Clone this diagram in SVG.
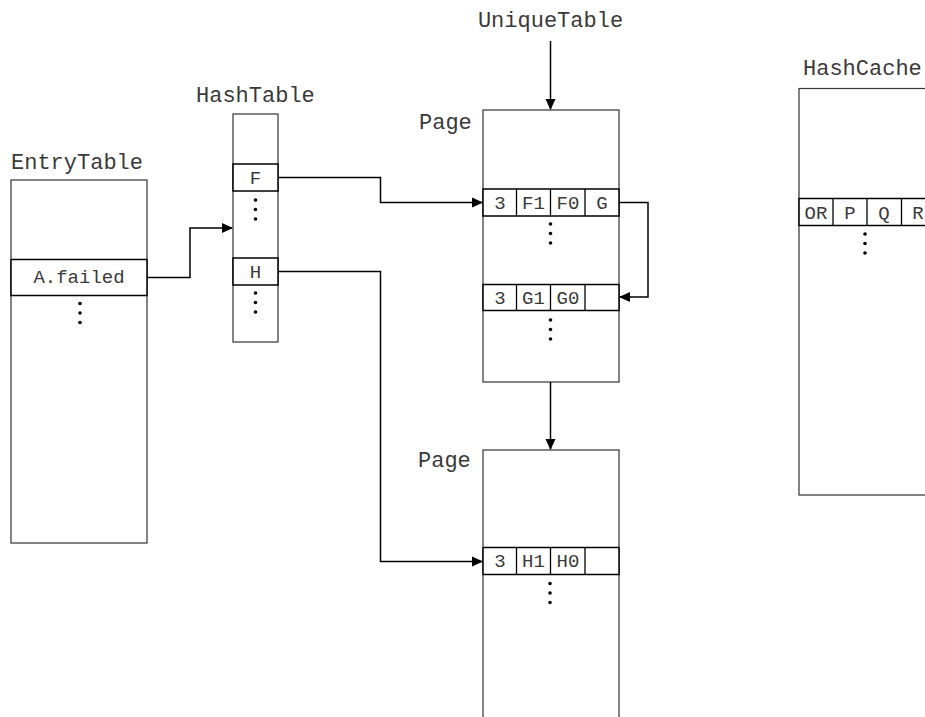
<svg xmlns="http://www.w3.org/2000/svg" width="925" height="717" viewBox="0 0 925 717">
<defs>
<marker id="arr" markerWidth="11" markerHeight="11" refX="10" refY="5.5" orient="auto" markerUnits="userSpaceOnUse">
<path d="M0,0.5 L11,5.5 L0,10.5 z" fill="#000"/>
</marker>
</defs>
<style>
.box{fill:#fff;stroke:#333;stroke-width:1.2}
.row{fill:#fff;stroke:#000;stroke-width:1.5}
.cell{fill:none;stroke:#000;stroke-width:1.3}
.lbl{font-family:"Liberation Mono","Courier New",monospace;font-size:22px;fill:#3a3a3a}
.ct{font-family:"Liberation Mono","Courier New",monospace;font-size:19px;fill:#3a3a3a;text-anchor:middle}
.dot{fill:#000}
.con{fill:none;stroke:#000;stroke-width:1.5}
</style>
<rect width="925" height="717" fill="#fff"/>

<g id="entrytable">
<text class="lbl" x="11" y="169">EntryTable</text>
<rect class="box" x="11" y="180" width="136" height="363"/>
<rect class="row" x="11" y="259.5" width="136" height="36"/>
<text class="ct" x="79" y="283">A.failed</text>
<circle class="dot" cx="80" cy="303.5" r="1.8"/>
<circle class="dot" cx="80" cy="313" r="1.8"/>
<circle class="dot" cx="80" cy="322.5" r="1.8"/>
</g>

<g id="hashtable">
<text class="lbl" x="196" y="102">HashTable</text>
<rect class="box" x="233" y="114" width="45" height="228"/>
<rect class="row" x="233" y="164" width="45" height="27"/>
<text class="ct" x="255.5" y="184">F</text>
<circle class="dot" cx="255.5" cy="200" r="1.8"/>
<circle class="dot" cx="255.5" cy="209.5" r="1.8"/>
<circle class="dot" cx="255.5" cy="219" r="1.8"/>
<rect class="row" x="233" y="258" width="45" height="27"/>
<text class="ct" x="255.5" y="278">H</text>
<circle class="dot" cx="255.5" cy="293" r="1.8"/>
<circle class="dot" cx="255.5" cy="302.5" r="1.8"/>
<circle class="dot" cx="255.5" cy="312" r="1.8"/>
</g>

<g id="uniquetable">
<text class="lbl" x="550.5" y="27" text-anchor="middle">UniqueTable</text>
</g>

<g id="page1">
<text class="lbl" x="419" y="129">Page</text>
<rect class="box" x="483" y="110" width="136" height="272"/>
<rect class="row" x="483" y="189" width="136" height="27"/>
<line class="cell" x1="516.5" y1="189" x2="516.5" y2="216"/>
<line class="cell" x1="550.5" y1="189" x2="550.5" y2="216"/>
<line class="cell" x1="585" y1="189" x2="585" y2="216"/>
<text class="ct" x="500" y="209">3</text>
<text class="ct" x="533.5" y="209">F1</text>
<text class="ct" x="568" y="209">F0</text>
<text class="ct" x="602" y="209">G</text>
<circle class="dot" cx="550.5" cy="224" r="1.8"/>
<circle class="dot" cx="550.5" cy="233.5" r="1.8"/>
<circle class="dot" cx="550.5" cy="243" r="1.8"/>
<rect class="row" x="483" y="284.5" width="136" height="26"/>
<line class="cell" x1="516.5" y1="284.5" x2="516.5" y2="310.5"/>
<line class="cell" x1="550.5" y1="284.5" x2="550.5" y2="310.5"/>
<line class="cell" x1="585" y1="284.5" x2="585" y2="310.5"/>
<text class="ct" x="500" y="304">3</text>
<text class="ct" x="533.5" y="304">G1</text>
<text class="ct" x="568" y="304">G0</text>
<circle class="dot" cx="550.5" cy="320" r="1.8"/>
<circle class="dot" cx="550.5" cy="329.5" r="1.8"/>
<circle class="dot" cx="550.5" cy="339" r="1.8"/>
</g>

<g id="page2">
<text class="lbl" x="418" y="467">Page</text>
<rect class="box" x="483" y="450" width="136" height="280"/>
<rect class="row" x="483" y="547.5" width="136" height="27"/>
<line class="cell" x1="516.5" y1="547.5" x2="516.5" y2="574.5"/>
<line class="cell" x1="550.5" y1="547.5" x2="550.5" y2="574.5"/>
<line class="cell" x1="585" y1="547.5" x2="585" y2="574.5"/>
<text class="ct" x="500" y="567">3</text>
<text class="ct" x="533.5" y="567">H1</text>
<text class="ct" x="568" y="567">H0</text>
<circle class="dot" cx="550" cy="583.5" r="1.8"/>
<circle class="dot" cx="550" cy="593" r="1.8"/>
<circle class="dot" cx="550" cy="602.5" r="1.8"/>
</g>

<g id="hashcache">
<text class="lbl" x="803" y="75">HashCache</text>
<rect class="box" x="799" y="88.5" width="150" height="406.5"/>
<rect class="row" x="799" y="198.5" width="150" height="27"/>
<line class="cell" x1="833" y1="198.5" x2="833" y2="225.5"/>
<line class="cell" x1="867" y1="198.5" x2="867" y2="225.5"/>
<line class="cell" x1="901.5" y1="198.5" x2="901.5" y2="225.5"/>
<text class="ct" x="816" y="218.5">OR</text>
<text class="ct" x="850" y="218.5">P</text>
<text class="ct" x="884" y="218.5">Q</text>
<text class="ct" x="918" y="218.5">R</text>
<circle class="dot" cx="865" cy="234" r="1.8"/>
<circle class="dot" cx="865" cy="243.5" r="1.8"/>
<circle class="dot" cx="865" cy="253" r="1.8"/>
</g>

<g id="connectors">
<polyline class="con" points="147,277.5 190,277.5 190,228 232,228" marker-end="url(#arr)"/>
<polyline class="con" points="278,177.5 380.5,177.5 380.5,202.5 482,202.5" marker-end="url(#arr)"/>
<polyline class="con" points="278,271.5 380.5,271.5 380.5,561.5 482,561.5" marker-end="url(#arr)"/>
<polyline class="con" points="619,202.5 648,202.5 648,297 620,297" marker-end="url(#arr)"/>
<line class="con" x1="550.5" y1="41" x2="550.5" y2="109" marker-end="url(#arr)"/>
<line class="con" x1="550.5" y1="382" x2="550.5" y2="449" marker-end="url(#arr)"/>
</g>
</svg>
